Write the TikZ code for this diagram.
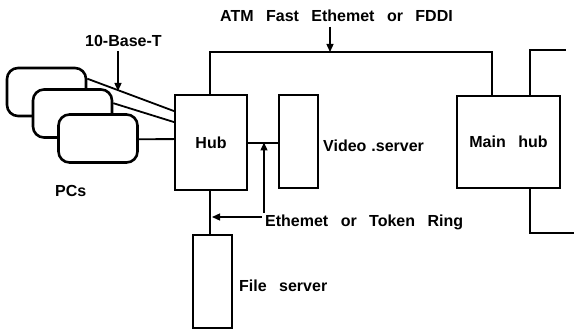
\documentclass[tikz,border=0pt]{standalone}
\usepackage{fontspec}
\setmainfont{Liberation Sans}[WordSpace=2.8]
\usetikzlibrary{arrows.meta}
\begin{document}
\begin{tikzpicture}[x=1pt,y=-1pt,
  box/.style={draw, line width=1.8pt, minimum width=#1, inner sep=0pt, font=\bfseries\fontsize{16}{18}\selectfont},
  pc/.style={draw, fill=white, line width=2.6pt, rounded corners=11pt, minimum width=79pt, minimum height=48pt, inner sep=0pt},
  wire/.style={line width=1.8pt},
  pointer/.style={line width=1.3pt, -{Triangle[length=8pt,width=7pt]}},
  lbl/.style={inner sep=0pt, anchor=base west, font=\bfseries\fontsize{16}{18}\selectfont}]
\useasboundingbox (0,0) rectangle (574,331);
% boxes
\node[box=72pt, minimum height=95pt] (hub) at (211,142.5) {Hub};
\node[box=39pt, minimum height=93pt] (video) at (298.5,141.5) {};
\node[box=103pt, minimum height=92pt] (mainhub) at (508.5,142) {Main\ hub};
\node[box=39pt, minimum height=93pt] (fs) at (212.5,281.5) {};
% PCs
\node[pc] (pc1) at (46.5,92) {};
\node[pc] (pc2) at (72.5,113.5) {};
\node[pc] (pc3) at (98,138.5) {};
% labels
\node[lbl] (lvideo) at (323,152) {Video\hspace{5pt}.server};
\node[lbl] (lfs) at (239,292) {File server};
\node[lbl] (leth) at (265,227) {Ethemet or Token Ring};
\node[lbl] (latm) at (220,22) {ATM Fast Ethemet or FDDI};
\node[lbl] (lbase) at (85,47) {10-Base-T};
\node[lbl] (lpcs) at (55,197) {PCs};
% free ends
\coordinate (eR1) at (566,50);
\coordinate (eR2) at (574,233);
\coordinate (topL) at (210,52);
\coordinate (a1) at (264,213);
\coordinate (a2) at (262,217);
\coordinate (a3) at (330,27);
\coordinate (a4) at (118,51);
\coordinate (a4end) at (118,91);
% wires
\draw[wire] ([xshift=-1pt]hub.north) -- (topL) -| ([xshift=-16.5pt]mainhub.north);
\draw[wire] ([xshift=21.5pt]mainhub.north) |- (eR1);
\draw[wire] ([xshift=21.5pt]mainhub.south) |- (eR2);
\draw[wire] ([yshift=-0.5pt]hub.east) -- ([yshift=-0.5pt]video.west |- hub.east);
\draw[wire] ([xshift=-1pt]hub.south) -- ([xshift=-1pt]hub.south |- fs.north);
\draw[wire] ([yshift=-12pt]pc1.north east) -- ([yshift=-17pt]hub.north west);
\draw[wire] ([yshift=-15pt]pc2.north east) -- ([yshift=-28pt]hub.north west);
\draw[wire] ([yshift=-26pt]pc3.north east) -- ([yshift=-45pt]hub.north west);
% pointers
\draw[pointer] (a1) -- (a1 |- hub.east);
\draw[pointer] (a2) -- ([xshift=1pt]a2 -| hub.south);
\draw[pointer] (a3) -- (a3 |- topL);
\draw[pointer] (a4) -- (a4end);
\end{tikzpicture}
\end{document}
